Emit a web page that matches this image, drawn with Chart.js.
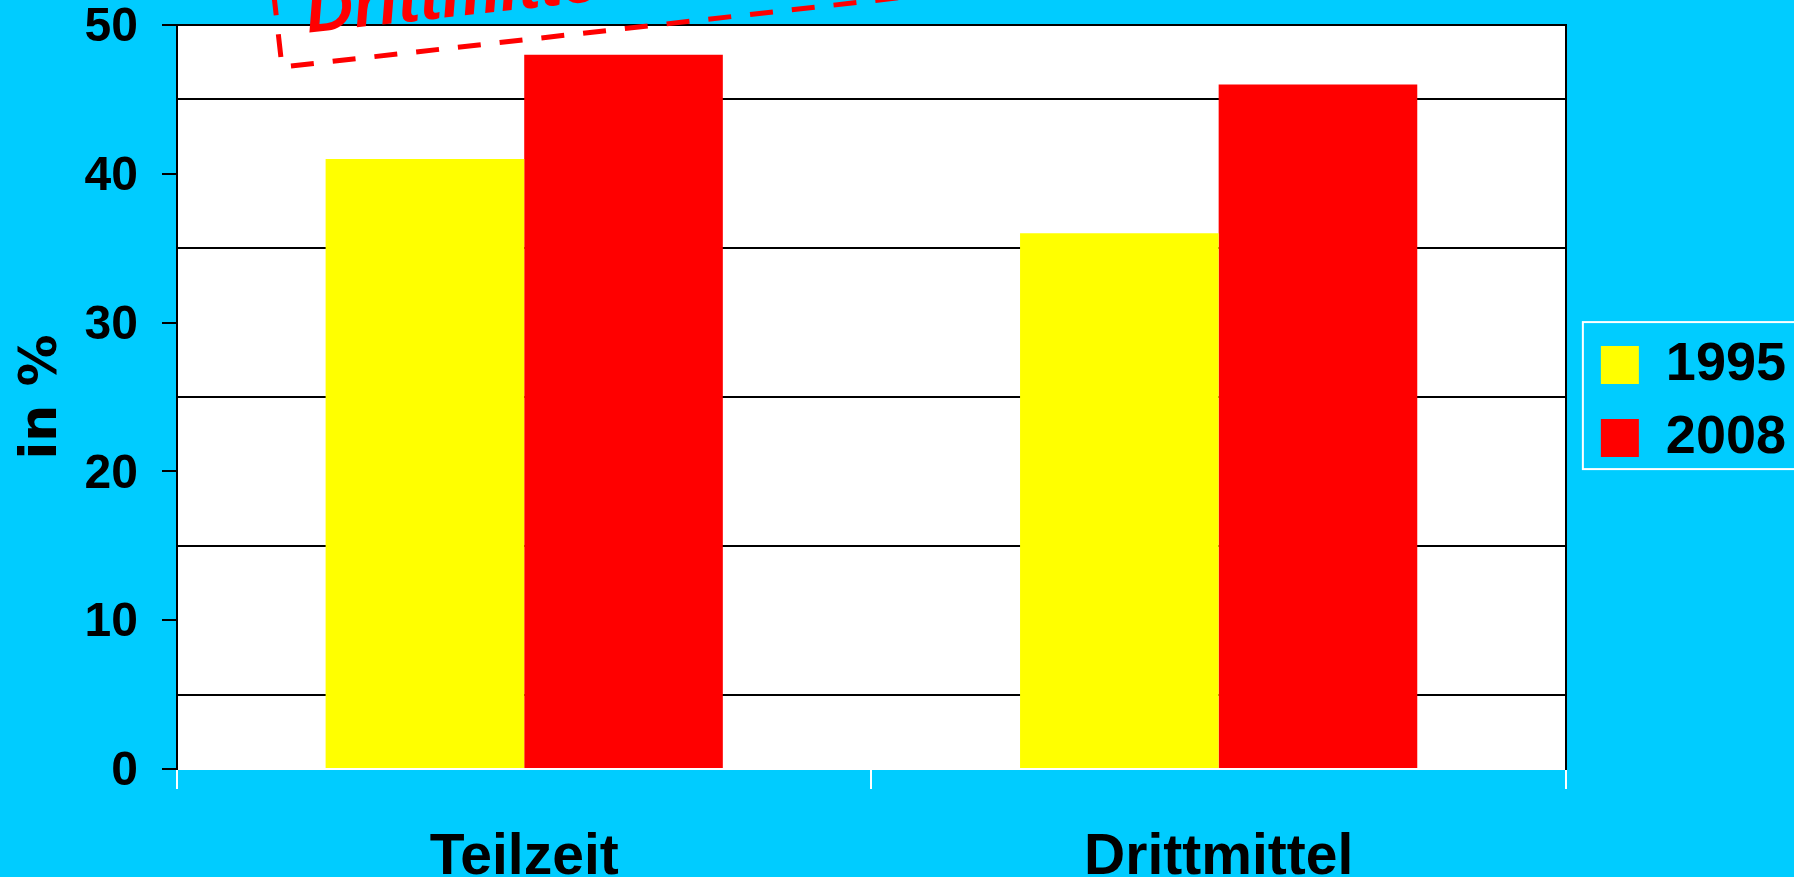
<!DOCTYPE html>
<html>
<head>
<meta charset="utf-8">
<script src="https://cdn.jsdelivr.net/npm/chart.js@4.4.0/dist/chart.umd.min.js"></script>
<style>
  html, body { margin: 0; padding: 0; background: #00CCFF; }
  canvas { display: block; }
</style>
</head>
<body>
<canvas id="c" width="1794" height="877"></canvas>
<script>
// ---- data ----
const categories = ['Teilzeit', 'Drittmittel'];
const seriesLabels = ['1995', '2008'];
const values1995 = [41, 36];
const values2008 = [48, 46];
const yMin = 0;
const yMax = 50;
const yStep = 5;
const yLabelStep = 10;
const yAxisTitle = 'in %';
const annotationText = 'Drittmittel';

const BG = '#00CCFF';
Chart.defaults.font.family = "'Liberation Sans', Arial, sans-serif";
Chart.defaults.color = '#000';

const bgPlugin = {
  id: 'bg',
  beforeDraw(chart) {
    const {ctx, chartArea: a} = chart;
    ctx.save();
    ctx.fillStyle = BG;
    ctx.fillRect(0, 0, chart.width, chart.height);
    ctx.fillStyle = '#FFFFFF';
    ctx.fillRect(a.left, a.top, a.right - a.left, a.bottom - a.top);
    ctx.restore();
  }
};

const legendBoxPlugin = {
  id: 'legendBox',
  afterDraw(chart) {
    const lg = chart.legend;
    if (!lg || !lg.legendHitBoxes || !lg.legendHitBoxes.length) return;
    const hb = lg.legendHitBoxes;
    const first = hb[0], last = hb[hb.length - 1];
    const ctx = chart.ctx;
    ctx.save();
    ctx.strokeStyle = '#FFFFFF';
    ctx.lineWidth = 2;
    const l = first.left - 18;
    const t = first.top - 16;
    const b = last.top + last.height + 4;
    ctx.strokeRect(l, t, chart.width + 20 - l, b - t);
    ctx.restore();
  }
};

const annotationPlugin = {
  id: 'annot',
  afterDraw(chart) {
    const {ctx, chartArea: a} = chart;
    ctx.save();
    ctx.translate(a.left + 105, a.top + 42);
    ctx.rotate(-6.4 * Math.PI / 180);
    ctx.strokeStyle = '#FF0000';
    ctx.lineWidth = 5;
    ctx.setLineDash([23, 19]);
    ctx.strokeRect(0, -140, 1500, 140);
    ctx.setLineDash([]);
    ctx.fillStyle = '#FF0000';
    ctx.font = "italic bold 66px 'Liberation Sans', Arial, sans-serif";
    ctx.textBaseline = 'alphabetic';
    ctx.fillText(annotationText, 30, -31);
    ctx.restore();
  }
};

new Chart(document.getElementById('c'), {
  type: 'bar',
  data: {
    labels: categories,
    datasets: [
      { label: seriesLabels[0], data: values1995, backgroundColor: '#FFFF00', borderWidth: 0 },
      { label: seriesLabels[1], data: values2008, backgroundColor: '#FF0000', borderWidth: 0 }
    ]
  },
  options: {
    responsive: false,
    animation: false,
    devicePixelRatio: 1,
    layout: { padding: { top: 25, left: 0, right: -2, bottom: 0 } },
    datasets: { bar: { categoryPercentage: 0.572, barPercentage: 1.0 } },
    plugins: {
      tooltip: { enabled: false },
      legend: {
        position: 'right',
        fullSize: false,
        title: { display: true, text: ' ', font: { size: 1 }, padding: { top: 4, bottom: 4 } },
        labels: {
          boxWidth: 38,
          boxHeight: 38,
          padding: 19,
          color: '#000',
          font: { size: 54, weight: 'bold' }
        }
      }
    },
    scales: {
      x: {
        offset: true,
        grid: { offset: true, color: '#FFFFFF', lineWidth: 2, tickColor: '#FFFFFF', tickLength: 20, drawOnChartArea: true },
        border: { display: true, color: '#FFFFFF', width: 2 },
        ticks: { color: '#000', padding: 35, font: { size: 57, weight: 'bold' } },
        afterFit(scale) { scale.height = 108; }
      },
      y: {
        min: yMin,
        max: yMax,
        position: 'left',
        ticks: {
          stepSize: yStep,
          padding: 24,
          labelOffset: 3,
          color: '#000',
          font: { size: 48, weight: 'bold' },
          callback: (v) => (v % yLabelStep === 0 ? String(v) : '')
        },
        grid: {
          lineWidth: 2,
          tickLength: 15,
          color: (ctx) => {
            const v = ctx.tick ? ctx.tick.value : null;
            if (v === null) return 'transparent';
            if (v === yMax) return '#000';
            if (v % yLabelStep !== 0) return '#000';
            return 'transparent';
          },
          tickColor: (ctx) => {
            const v = ctx.tick ? ctx.tick.value : null;
            return (v !== null && v % yLabelStep === 0) ? '#000' : 'transparent';
          }
        },
        border: { display: true, color: '#000', width: 2 },
        title: {
          display: true,
          text: yAxisTitle,
          color: '#000',
          font: { family: "'DejaVu Sans', sans-serif", size: 52, weight: 'bold' },
          padding: { top: 11, bottom: 0 }
        },
        afterFit(scale) { scale.width = 177; scale.paddingTop = 0; scale.paddingBottom = 0; }
      },
      yR: {
        min: yMin,
        max: yMax,
        position: 'right',
        grid: { display: false },
        ticks: { display: false },
        border: { display: true, color: '#000', width: 2 },
        afterFit(scale) { scale.width = 16; scale.paddingTop = 0; scale.paddingBottom = 0; }
      }
    }
  },
  plugins: [bgPlugin, legendBoxPlugin, annotationPlugin]
});
</script>
</body>
</html>
